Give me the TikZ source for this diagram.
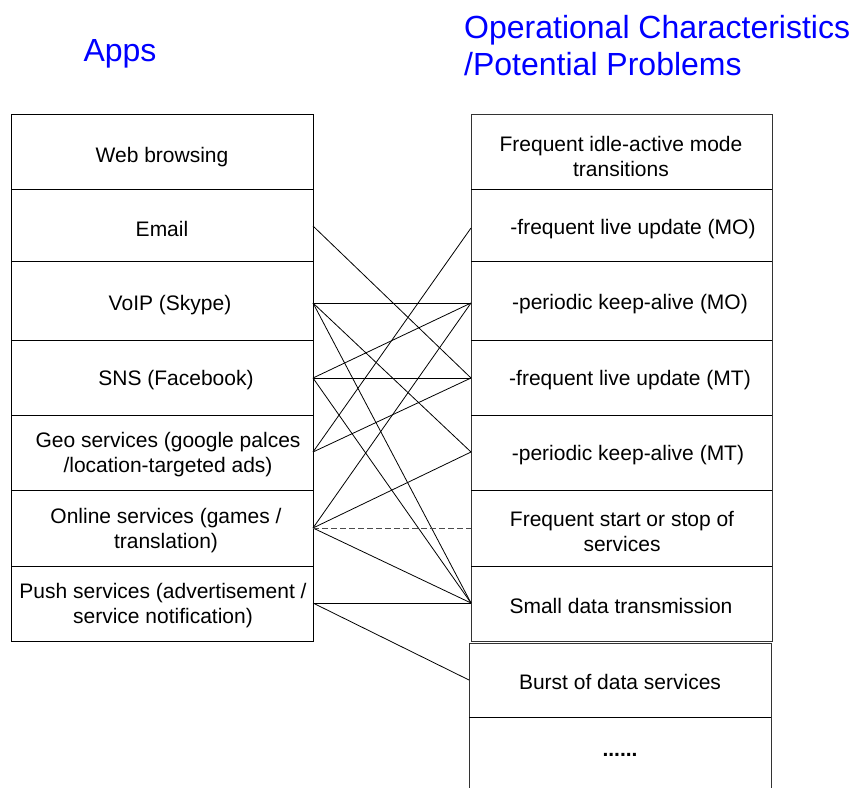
\documentclass[tikz,border=0pt]{standalone}
\usepackage{fontspec}
\setmainfont{Liberation Sans}
\begin{document}
\begin{tikzpicture}[x=1pt,y=-1pt,
  txt/.style={font=\fontsize{21}{25}\selectfont,align=center,inner sep=0pt},
  ttl/.style={font=\fontsize{32}{37}\selectfont,text=blue,align=left,inner sep=0pt},
  link/.style={draw=black,line width=0.8pt},
  dlink/.style={draw=black!70,line width=0.8pt,dash pattern=on 6pt off 3pt}]
\useasboundingbox (0,0) rectangle (853,787);
% titles
\node[ttl] (tA) at (120,54) {Apps};
\node[ttl,anchor=west] (tB) at (464,46) {Operational Characteristics\\/Potential Problems};
% left column
\draw[line width=0.9pt] (11,114) rectangle (313,641);
\foreach \yy in {189,261,340,415,490,566} \draw[line width=0.9pt] (11,\yy) -- (313,\yy);
\coordinate (L1) at (313,151);
\coordinate (L2) at (313,226);
\coordinate (L3) at (313,303);
\coordinate (L4) at (313,378);
\coordinate (L5) at (313,452);
\coordinate (L6) at (313,528);
\coordinate (L7) at (313,603);
\node[txt] (a1) at (162,157) {Web browsing};
\node[txt] (a2) at (162,229) {Email};
\node[txt] (a3) at (170,305) {VoIP (Skype)};
\node[txt] (a4) at (176,380) {SNS (Facebook)};
\node[txt] (a5) at (168,455) {Geo services (google palces\\/location-targeted ads)};
\node[txt] (a6) at (166,531) {Online services (games /\\translation)};
\node[txt] (a7) at (163,606) {Push services (advertisement /\\service notification)};
% right column
\draw[line width=0.9pt,draw=black!80] (471,114) rectangle (772,641);
\foreach \yy in {189,261,340,415,490,566} \draw[line width=0.9pt] (471,\yy) -- (772,\yy);
\draw[line width=0.9pt,draw=black!80] (469,795) -- (469,643) -- (771,643) -- (771,795);
\draw[line width=0.9pt] (469,717) -- (771,717);
\coordinate (R2) at (471,228);
\coordinate (R3) at (471,303);
\coordinate (R4) at (471,378);
\coordinate (R5) at (471,452);
\coordinate (R6) at (471,528);
\coordinate (R7) at (471,603);
\coordinate (R8) at (469,680);
\node[txt] (b1) at (621,156) {Frequent idle-active mode\\transitions};
\node[txt] (b2) at (633,229) {-frequent live update (MO)};
\node[txt] (b3) at (630,304) {-periodic keep-alive (MO)};
\node[txt] (b4) at (630,380) {-frequent live update (MT)};
\node[txt] (b5) at (628,455) {-periodic keep-alive (MT)};
\node[txt] (b6) at (622,531) {Frequent start or stop of\\services};
\node[txt] (b7) at (621,606) {Small data transmission};
\node[txt] (b8) at (620,682) {Burst of data services};
\node[txt] (b9) at (620,755) {\textbf{......}};
% connectors
\draw[link] (L2) -- (R4);
\draw[link] (L3) -- (R3);
\draw[link] (L3) -- (R5);
\draw[link] (L3) -- (R7);
\draw[link] (L4) -- (R3);
\draw[link] (L4) -- (R4);
\draw[link] (L4) -- (R7);
\draw[link] (L5) -- (R2);
\draw[link] (L5) -- (R4);
\draw[link] (L6) -- (R3);
\draw[link] (L6) -- (R5);
\draw[link] (L6) -- (R7);
\draw[dlink] (L6) -- (R6);
\draw[link] (L7) -- (R7);
\draw[link] (L7) -- (R8);
\end{tikzpicture}
\end{document}
